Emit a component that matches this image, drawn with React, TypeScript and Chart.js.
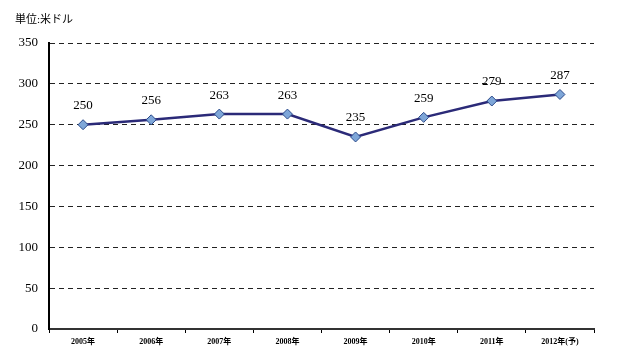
import React, { useEffect, useRef } from "react";
import { Chart, registerables } from "chart.js";

Chart.register(...registerables);

const categories = ["2005年", "2006年", "2007年", "2008年", "2009年", "2010年", "2011年", "2012年(予)"];
const values = [250, 256, 263, 263, 235, 259, 279, 287];
const yTicks = [0, 50, 100, 150, 200, 250, 300, 350];
const unitLabel = "単位:米ドル";

const labelPlugin = {
  id: "labels",
  afterDatasetsDraw(chart: any) {
    const ctx = chart.ctx;
    const meta = chart.getDatasetMeta(0);
    ctx.save();
    ctx.fillStyle = "#000";
    ctx.font = "13px 'Liberation Serif', 'Times New Roman', serif";
    ctx.textAlign = "center";
    ctx.textBaseline = "middle";
    meta.data.forEach((pt: any, i: number) => {
      ctx.fillText(String(values[i]), pt.x, pt.y - 19);
    });
    ctx.font = "11px 'Liberation Serif', 'Noto Sans CJK JP', serif";
    ctx.textAlign = "left";
    ctx.fillText(unitLabel, 15, 20);
    ctx.restore();
  },
};

export default function App() {
  const ref = useRef<HTMLCanvasElement>(null);
  useEffect(() => {
    const chart = new Chart(ref.current!, {
      type: "line",
      data: {
        labels: categories,
        datasets: [
          {
            data: values,
            borderColor: "#2b2a78",
            borderWidth: 2.5,
            pointStyle: "rectRot",
            pointRadius: 5,
            pointBackgroundColor: "#7ea6d8",
            pointBorderColor: "#2b4a8a",
            pointBorderWidth: 1,
            tension: 0,
          },
        ],
      },
      options: {
        animation: false,
        responsive: false,
        layout: { padding: { top: 43, right: 38, left: 0, bottom: 0 } },
        plugins: { legend: { display: false }, tooltip: { enabled: false } },
        scales: {
          x: {
            offset: true,
            grid: { drawOnChartArea: false, drawTicks: true, tickLength: 4, color: "#000", offset: true },
            border: { color: "#333", width: 2 },
            ticks: {
              color: "#000",
              padding: 4,
              maxRotation: 0,
              autoSkip: false,
              font: { family: "'Liberation Serif', 'Noto Sans CJK JP', serif", size: 8, weight: "bold" },
            },
            afterFit(scale: any) {
              scale.height = 30;
            },
          },
          y: {
            min: 0,
            max: 350,
            afterBuildTicks(scale: any) {
              scale.ticks = yTicks.map((v) => ({ value: v }));
            },
            grid: { color: "#222", lineWidth: 1, drawTicks: false },
            border: { color: "#000", width: 2, dash: [5, 4] },
            ticks: {
              color: "#000",
              padding: 11,
              font: { family: "'Liberation Serif', 'Times New Roman', serif", size: 13 },
            },
            afterFit(scale: any) {
              scale.width = 49;
            },
          },
        },
      },
      plugins: [labelPlugin],
    } as any);
    return () => chart.destroy();
  }, []);
  return (
    <div style={{ position: "fixed", left: 0, top: 0, width: 632, height: 359, background: "#fff" }}>
      <canvas ref={ref} width={632} height={359} />
    </div>
  );
}
